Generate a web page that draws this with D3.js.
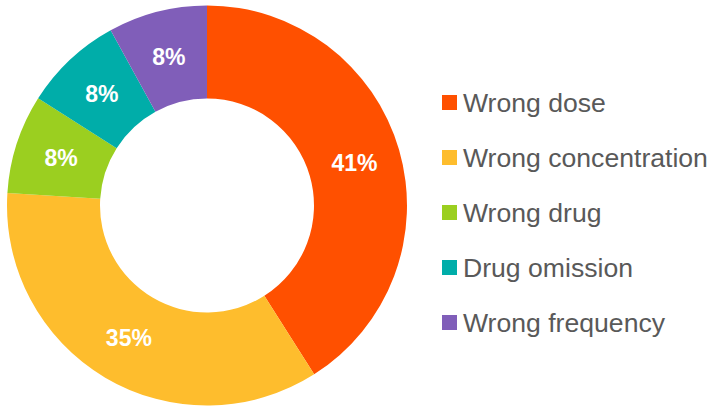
<!DOCTYPE html>
<html>
<head>
<meta charset="utf-8">
<script src="https://cdn.jsdelivr.net/npm/d3@7"></script>
<style>
  html, body { margin: 0; padding: 0; background: #ffffff; }
  svg { display: block; }
</style>
</head>
<body>
<svg id="chart" width="709" height="407"></svg>
<script>
const categories = ["Wrong dose", "Wrong concentration", "Wrong drug", "Drug omission", "Wrong frequency"];
const values = [41, 35, 8, 8, 8];
const colors = ["#FF5000", "#FEBD2D", "#9BCF20", "#00ADA9", "#805EB9"];

const data = categories.map((c, i) => ({ name: c, value: values[i], color: colors[i] }));

const svg = d3.select("#chart");
const cx = 207, cy = 205.5, outerR = 200, innerR = 107;

const pie = d3.pie().value(d => d.value).sort(null);
const arc = d3.arc().innerRadius(innerR).outerRadius(outerR);
const labelArc = d3.arc().innerRadius((innerR + outerR) / 2).outerRadius((innerR + outerR) / 2);

const g = svg.append("g").attr("transform", `translate(${cx},${cy})`);
const arcs = pie(data);

g.selectAll("path").data(arcs).enter().append("path")
  .attr("d", arc)
  .attr("fill", d => d.data.color);

g.selectAll("text").data(arcs).enter().append("text")
  .attr("transform", d => `translate(${labelArc.centroid(d)})`)
  .attr("text-anchor", "middle")
  .attr("dy", "0.36em")
  .attr("font-family", "'Liberation Sans', Arial, sans-serif")
  .attr("font-weight", "bold")
  .attr("font-size", 23)
  .attr("fill", "#ffffff")
  .text(d => d.data.value + "%");

const legendY = d3.scalePoint().domain(categories).range([102.5, 322.5]);
const lg = svg.append("g");
const items = lg.selectAll("g").data(data).enter().append("g")
  .attr("transform", d => `translate(442,${legendY(d.name)})`);
items.append("rect")
  .attr("x", 0).attr("y", -7.5).attr("width", 15).attr("height", 15)
  .attr("fill", d => d.color);
items.append("text")
  .attr("x", 21).attr("y", 0).attr("dy", "0.36em")
  .attr("font-family", "'Liberation Sans', Arial, sans-serif")
  .attr("font-size", 26.6)
  .attr("fill", "#595959")
  .text(d => d.name);
</script>
</body>
</html>
